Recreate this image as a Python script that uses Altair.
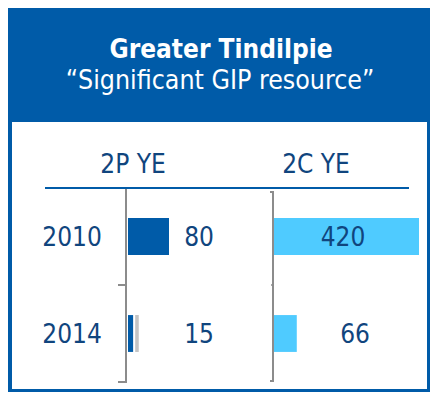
import altair as alt
import pandas as pd

# ---- data ----
years = ["2010", "2014"]
p2_values = [80, 10]          # 2P YE bar lengths
p2_labels = ["80", "15"]
p2_marker_year = ["2014"]     # thin grey marker next to the 2014 2P bar
p2_marker_start = [14]
p2_marker_end = [21]
c2_values = [420, 66]         # 2C YE bar lengths
c2_labels = ["420", "66"]

title_text = "Greater Tindilpie"
subtitle_text = "\u201cSignificant GIP resource\u201d"
col_titles = ["2P YE", "2C YE"]

# ---- styling ----
W, H = 422, 384
HEADER = "#005BA8"
NAVY = "#10457E"
LIGHT = "#4FCBFF"
GREY = "#8C8C8C"
FONT = "DejaVu Sans Condensed"
FS = 26

one = pd.DataFrame({"k": [0]})
yscale = alt.Scale(domain=years, range=[180, 374], paddingInner=0.62, paddingOuter=0.31)
left_x = alt.Scale(domain=[0, 80], range=[120, 161])
right_x = alt.Scale(domain=[0, 420], range=[266, 411])

bg = alt.Chart(one).mark_rect(color=HEADER).encode(
    x=alt.value(0), x2=alt.value(W), y=alt.value(0), y2=alt.value(H))
white = alt.Chart(one).mark_rect(color="white").encode(
    x=alt.value(4), x2=alt.value(419), y=alt.value(114), y2=alt.value(381))

title = alt.Chart(one).mark_text(text=title_text, font=FONT, fontSize=26, fontWeight="bold",
                                 color="white", align="center", baseline="alphabetic").encode(
    x=alt.value(213), y=alt.value(49.5))
subtitle = alt.Chart(one).mark_text(text=subtitle_text, font=FONT, fontSize=26.5,
                                    color="white", align="center", baseline="alphabetic").encode(
    x=alt.value(212), y=alt.value(81))

h1 = alt.Chart(one).mark_text(text=col_titles[0], font=FONT, fontSize=FS, color=NAVY,
                              align="center", baseline="alphabetic").encode(
    x=alt.value(125), y=alt.value(165))
h2 = alt.Chart(one).mark_text(text=col_titles[1], font=FONT, fontSize=FS, color=NAVY,
                              align="center", baseline="alphabetic").encode(
    x=alt.value(308), y=alt.value(165))
hline = alt.Chart(one).mark_rule(color=HEADER, strokeWidth=2).encode(
    x=alt.value(37), x2=alt.value(401), y=alt.value(180))

# brackets
la = alt.Chart(one).mark_rule(color=GREY, strokeWidth=2).encode(
    x=alt.value(118), y=alt.value(180), y2=alt.value(375))
lt1 = alt.Chart(one).mark_rule(color=GREY, strokeWidth=2).encode(
    x=alt.value(110), x2=alt.value(118), y=alt.value(277))
lt2 = alt.Chart(one).mark_rule(color=GREY, strokeWidth=2).encode(
    x=alt.value(110), x2=alt.value(119), y=alt.value(374))
ra = alt.Chart(one).mark_rule(color=GREY, strokeWidth=2).encode(
    x=alt.value(265), y=alt.value(183), y2=alt.value(374))
rt0 = alt.Chart(one).mark_rule(color=GREY, strokeWidth=2).encode(
    x=alt.value(262), x2=alt.value(266), y=alt.value(184))
rt1 = alt.Chart(one).mark_rule(color=GREY, strokeWidth=1.5).encode(
    x=alt.value(263), x2=alt.value(266), y=alt.value(277))
rt2 = alt.Chart(one).mark_rule(color=GREY, strokeWidth=2).encode(
    x=alt.value(262), x2=alt.value(266), y=alt.value(373))

p2 = pd.DataFrame({"year": years, "v": p2_values, "lab": p2_labels})
c2 = pd.DataFrame({"year": years, "v": c2_values, "lab": c2_labels})
mk = pd.DataFrame({"year": p2_marker_year, "s": p2_marker_start, "e": p2_marker_end})

Y = alt.Y("year:N", scale=yscale, axis=None)

p2_bars = alt.Chart(p2).mark_bar(color=HEADER).encode(
    x=alt.X("v:Q", scale=left_x, axis=None), y=Y)
p2_mark = alt.Chart(mk).mark_bar(color="#C4C4C4").encode(
    x=alt.X("s:Q", scale=left_x, axis=None), x2="e:Q", y=Y)
c2_bars = alt.Chart(c2).mark_bar(color=LIGHT).encode(
    x=alt.X("v:Q", scale=right_x, axis=None), y=Y)

def txt(df, xpos, field):
    return alt.Chart(df).mark_text(font=FONT, fontSize=FS, color=NAVY, align="center",
                                   baseline="alphabetic", dy=9.5).encode(
        x=alt.value(xpos), y=Y, text=f"{field}:N")

yr_text = txt(p2, 64, "year")
p2_text = txt(p2, 191, "lab")
c2_text_a = txt(c2.iloc[[0]], 335, "lab")
c2_text_b = txt(c2.iloc[[1]], 347, "lab")

chart = alt.layer(
    bg, white, title, subtitle, h1, h2,
    p2_bars, p2_mark, c2_bars,
    la, lt1, lt2, ra, rt0, rt1, rt2, hline,
    yr_text, p2_text, c2_text_a, c2_text_b,
).resolve_scale(x="independent").properties(
    width=W, height=H, padding=0
).configure_view(stroke=None)

chart.save("out.html", embed_options={"renderer": "svg", "actions": False})
